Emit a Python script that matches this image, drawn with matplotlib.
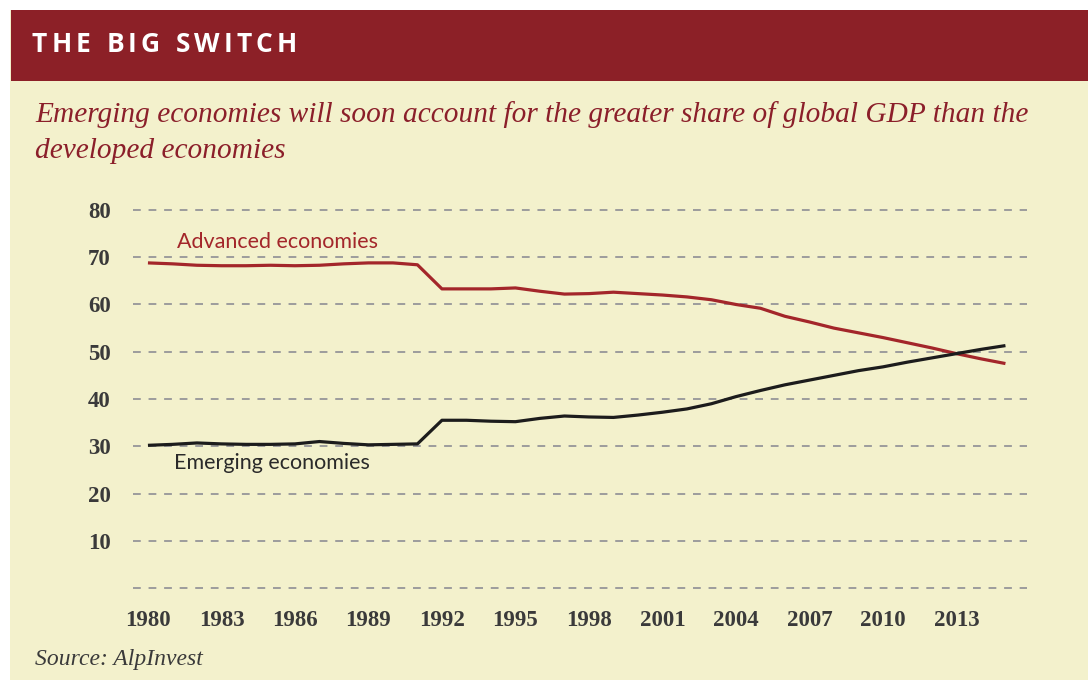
import matplotlib
matplotlib.use("Agg")
import matplotlib.pyplot as plt
from matplotlib.patches import Rectangle

# ---------------- data ----------------
years = list(range(1980, 2016))
advanced = [68.8, 68.6, 68.3, 68.2, 68.2, 68.3, 68.2, 68.3, 68.6, 68.8,
            68.8, 68.4, 63.3, 63.3, 63.3, 63.5, 62.8, 62.2, 62.3, 62.6,
            62.3, 62.0, 61.6, 61.0, 60.0, 59.2, 57.5, 56.3, 55.0, 54.0,
            53.0, 51.9, 50.8, 49.6, 48.5, 47.5]
emerging = [30.2, 30.4, 30.7, 30.5, 30.4, 30.4, 30.5, 31.0, 30.6, 30.3,
            30.4, 30.5, 35.5, 35.5, 35.3, 35.2, 35.9, 36.4, 36.2, 36.1,
            36.6, 37.2, 37.9, 39.0, 40.5, 41.8, 43.0, 44.0, 45.0, 46.0,
            46.8, 47.8, 48.7, 49.6, 50.5, 51.3]
xtick_years = [1980, 1983, 1986, 1989, 1992, 1995, 1998, 2001, 2004, 2007, 2010, 2013]
ytick_vals = [0, 10, 20, 30, 40, 50, 60, 70, 80]
ytick_labels = ["", "10", "20", "30", "40", "50", "60", "70", "80"]
title = "THE BIG SWITCH"
subtitle = ["Emerging economies will soon account for the greater share of global GDP than the",
            "developed economies"]
source = "Source: AlpInvest"
label_adv = "Advanced economies"
label_emg = "Emerging economies"

# ---------------- styling ----------------
W, H = 1088, 680
CREAM = "#f3f1cc"
BAR = "#8c2027"
RED = "#a3262a"
DARK = "#1c1c1c"
TXT = "#3a3a3a"

def fx(px):
    return px / W

def fy(py):
    return 1 - py / H

fig = plt.figure(figsize=(W / 100, H / 100), dpi=100, facecolor="white")

# cream panel and red title bar
fig.add_artist(Rectangle((fx(10), 0), 1 - fx(10), fy(10), transform=fig.transFigure,
                         facecolor=CREAM, edgecolor="none", zorder=0))
fig.add_artist(Rectangle((fx(11), fy(81)), 1 - fx(11), (81 - 10) / H, transform=fig.transFigure,
                         facecolor=BAR, edgecolor="none", zorder=1))

# axes: x 1979.39..2015.88 at px 133..1027; y 80 at 210, 0 at 588
ax = fig.add_axes([fx(133), fy(590.4), (1027 - 133) / W, (590.4 - 207.6) / H])
ax.set_facecolor("none")
ax.set_xlim(1979.39, 2015.88)
ax.set_ylim(-0.5, 80.5)
for s in ax.spines.values():
    s.set_visible(False)

ax.set_yticks(ytick_vals)
ax.set_yticklabels(ytick_labels)
ax.set_xticks(xtick_years)
ax.set_xticklabels([str(y) for y in xtick_years])
ax.tick_params(axis="both", length=0, colors=TXT)
ax.tick_params(axis="y", pad=16)
ax.tick_params(axis="x", pad=14)
for lbl in ax.get_xticklabels() + ax.get_yticklabels():
    lbl.set_fontfamily("Liberation Serif")
    lbl.set_fontsize(16.5)
    lbl.set_fontweight("bold")
    lbl.set_color(TXT)

ax.grid(False)
for v in ytick_vals:
    ax.axhline(v, color="#9c9c9c", lw=1.4, ls=(0, (4, 4)), zorder=1)

ax.plot(years, advanced, color=RED, lw=2.3, zorder=3, solid_capstyle="butt")
ax.plot(years, emerging, color=DARK, lw=2.3, zorder=3, solid_capstyle="butt")

ax.text(1981.2, 73.2, label_adv, color=RED, fontsize=15.5, family="Lato",
        va="center", ha="left")
ax.text(1981.05, 26.5, label_emg, color="#2a2a2a", fontsize=15.5, family="Lato",
        va="center", ha="left")

# subtitle and source
fig.text(fx(35), fy(122), subtitle[0], family="Liberation Serif", style="italic",
         fontsize=21.2, color="#8b1f2a", va="baseline", ha="left")
fig.text(fx(35), fy(158), subtitle[1], family="Liberation Serif", style="italic",
         fontsize=21.2, color="#8b1f2a", va="baseline", ha="left")
fig.text(fx(35), fy(665), source, family="Liberation Serif", style="italic",
         fontsize=17, color=TXT, va="baseline", ha="left")

# letter-spaced title
renderer = fig.canvas.get_renderer()
x = 32
tracking = 4.0
for ch in title:
    t = fig.text(fx(x), fy(52), ch, family="Open Sans", fontweight="bold",
                 fontsize=19, color="white", va="baseline", ha="left", zorder=5)
    if ch == " ":
        w = 8
    else:
        bb = t.get_window_extent(renderer)
        w = bb.width
    x += w + tracking

fig.savefig("out.png", dpi=100, facecolor=fig.get_facecolor())
